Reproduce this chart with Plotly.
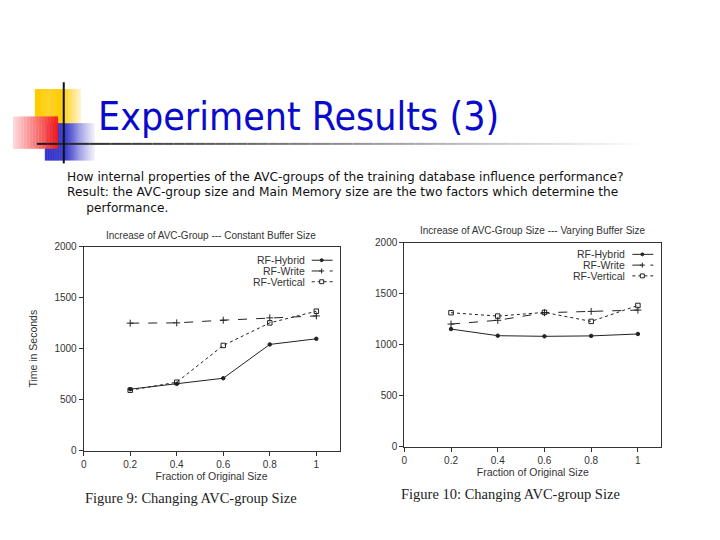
import plotly.graph_objects as go

W, H = 720, 540

fractions = [0.2, 0.4, 0.6, 0.8, 1.0]
series_names = ['RF-Hybrid', 'RF-Write', 'RF-Vertical']

# Figure 9: constant buffer size
const_hybrid = [604, 656, 711, 1042, 1097]
const_write = [1250, 1253, 1279, 1302, 1321]
const_vertical = [594, 672, 1032, 1253, 1367]

# Figure 10: varying buffer size
vary_hybrid = [1154, 1089, 1083, 1087, 1106]
vary_write = [1203, 1240, 1314, 1327, 1340]
vary_vertical = [1314, 1281, 1317, 1229, 1385]

x_ticks = [0, 0.2, 0.4, 0.6, 0.8, 1]
x_tick_labels = ['0', '0.2', '0.4', '0.6', '0.8', '1']
y_ticks = [0, 500, 1000, 1500, 2000]

slide_title = 'Experiment Results (3)'
body_lines = [
    'How internal properties of the AVC-groups of the training database influence performance?',
    'Result: the AVC-group size and Main Memory size are the two factors which determine the',
    '&nbsp;&nbsp;&nbsp;&nbsp;&nbsp;performance.',
]
chart_titles = ['Increase of AVC-Group --- Constant Buffer Size',
                'Increase of AVC-Group Size --- Varying Buffer Size']
captions = ['Figure 9: Changing AVC-group Size', 'Figure 10: Changing AVC-group Size']

INK = '#222222'
CHART_FONT = 'Liberation Sans'
styles = {
    'RF-Hybrid': dict(dash='solid', symbol='circle', size=3.5),
    'RF-Write': dict(dash='dash', symbol='cross-thin-open', size=5),
    'RF-Vertical': dict(dash='dot', symbol='square-open', size=4.5),
}


def px(x):
    return x / W


def py(y):
    return 1 - y / H


def mix(rgb, t):
    # t=0 -> full colour, t=1 -> white
    r, g, b = rgb
    return 'rgb(%d,%d,%d)' % (r + (255 - r) * t, g + (255 - g) * t, b + (255 - b) * t)


fig = go.Figure()

panels = [
    dict(xa='x', ya='y', data=[const_hybrid, const_write, const_vertical],
         box=(81, 338, 246, 455)),
    dict(xa='x2', ya='y2', data=[vary_hybrid, vary_write, vary_vertical],
         box=(403, 661, 242, 451)),
]

for p in panels:
    for name, values in zip(series_names, p['data']):
        st = styles[name]
        fig.add_trace(go.Scatter(
            x=fractions, y=values, name=name, mode='lines+markers',
            xaxis=p['xa'], yaxis=p['ya'], showlegend=False,
            line=dict(color=INK, width=1, dash=st['dash']),
            marker=dict(symbol=st['symbol'], size=st['size'], color=INK,
                        line=dict(color=INK, width=1)),
        ))

axis_common = dict(
    showgrid=False, zeroline=False, showline=True, linecolor='#333333',
    linewidth=1, mirror=True, ticks='outside', ticklen=4, tickcolor='#333333',
    tickfont=dict(family=CHART_FONT, size=10, color='#333333'),
)

layout_axes = {}
for i, p in enumerate(panels):
    x0, x1, y0, y1 = p['box']
    sfx = '' if i == 0 else str(i + 1)
    layout_axes['xaxis' + sfx] = dict(
        axis_common, domain=[px(x0), px(x1)], range=[0, 1.1], anchor='y' + sfx,
        tickvals=x_ticks, ticktext=x_tick_labels,
        title=dict(text='Fraction of Original Size', standoff=2,
                   font=dict(family=CHART_FONT, size=10.5, color='#333333')),
    )
    layout_axes['yaxis' + sfx] = dict(
        axis_common, domain=[py(y1), py(y0)], range=[0, 2000], anchor='x' + sfx,
        tickvals=y_ticks,
        title=dict(text='Time in Seconds' if i == 0 else '', standoff=14,
                   font=dict(family=CHART_FONT, size=10.5, color='#333333')),
    )

shapes = []
annotations = []


# decorative squares with horizontal colour fades
def gradient_box(x0, x1, y0, y1, rgb, fade_start, fade_end, n=30):
    # fade_start/fade_end: whiteness at left / right edge
    for k in range(n):
        t = (k + 0.5) / n
        a, b = x0 + (x1 - x0) * k / n, x0 + (x1 - x0) * (k + 1) / n
        shapes.append(dict(type='rect', xref='paper', yref='paper',
                           x0=px(a), x1=px(b + 0.3), y0=py(y1), y1=py(y0),
                           line=dict(width=0),
                           fillcolor=mix(rgb, fade_start + (fade_end - fade_start) * t)))


gradient_box(32, 61, 85, 121, (255, 204, 0), 0.0, 0.05)
gradient_box(61, 78, 85, 121, (255, 204, 0), 0.05, 0.8)
gradient_box(42, 61, 120, 158, (40, 40, 200), 0.0, 0.05)
gradient_box(61, 92, 120, 158, (40, 40, 200), 0.05, 0.95)
gradient_box(10, 55, 113, 146, (245, 25, 25), 0.85, 0.0)

# horizontal rule with fade
n_rule = 60
for k in range(n_rule):
    a = 34 + (668 - 34) * k / n_rule
    b = 34 + (668 - 34) * (k + 1) / n_rule
    shapes.append(dict(type='line', xref='paper', yref='paper', x0=px(a), x1=px(b),
                       y0=py(141), y1=py(141),
                       line=dict(color=mix((30, 30, 30), min(k / n_rule * 1.05, 1)), width=2)))
# vertical rule
shapes.append(dict(type='line', xref='paper', yref='paper', x0=px(61), x1=px(61),
                   y0=py(78), y1=py(161), line=dict(color='#111111', width=2)))

annotations.append(dict(text=slide_title, xref='paper', yref='paper', x=px(93), y=py(113),
                        xanchor='left', yanchor='middle', showarrow=False,
                        font=dict(family='DejaVu Sans Condensed, Liberation Sans',
                                  size=39, color='#0A0ACC')))

for j, line in enumerate(body_lines):
    annotations.append(dict(text=line, xref='paper', yref='paper',
                            x=px(62), y=py(175 + j * 15.7), xanchor='left', yanchor='middle',
                            showarrow=False,
                            font=dict(family='DejaVu Sans', size=12.2, color='#111111')))

title_pos = [(209, 235), (532, 230)]
caption_pos = [(80, 503), (398, 499)]
for i in range(2):
    annotations.append(dict(text=chart_titles[i], xref='paper', yref='paper',
                            x=px(title_pos[i][0]), y=py(title_pos[i][1]), xanchor='center',
                            yanchor='middle', showarrow=False,
                            font=dict(family=CHART_FONT, size=10, color='#333333')))
    annotations.append(dict(text=captions[i], xref='paper', yref='paper',
                            x=px(caption_pos[i][0]), y=py(caption_pos[i][1]), xanchor='left',
                            yanchor='middle', showarrow=False,
                            font=dict(family='Liberation Serif', size=14.5, color='#222222')))

# hand-drawn legends (text on the left, key on the right)
legend_pos = [(305, 260), (627, 254)]
for (lx, ly) in legend_pos:
    for k, name in enumerate(series_names):
        st = styles[name]
        yy = ly + k * 11
        annotations.append(dict(text=name, xref='paper', yref='paper', x=px(lx), y=py(yy),
                                xanchor='right', yanchor='middle', showarrow=False,
                                font=dict(family=CHART_FONT, size=10.5, color='#333333')))
        shapes.append(dict(type='line', xref='paper', yref='paper', x0=px(lx + 5),
                           x1=px(lx + 26), y0=py(yy), y1=py(yy),
                           line=dict(color=INK, width=1, dash=st['dash'])))
        cx = lx + 15
        if name == 'RF-Hybrid':
            shapes.append(dict(type='circle', xref='paper', yref='paper', x0=px(cx - 1.5),
                               x1=px(cx + 1.5), y0=py(yy + 1.5), y1=py(yy - 1.5),
                               fillcolor=INK, line=dict(color=INK, width=1)))
        elif name == 'RF-Write':
            shapes.append(dict(type='line', xref='paper', yref='paper', x0=px(cx), x1=px(cx),
                               y0=py(yy + 2.5), y1=py(yy - 2.5), line=dict(color=INK, width=1)))
            shapes.append(dict(type='line', xref='paper', yref='paper', x0=px(cx - 2.5),
                               x1=px(cx + 2.5), y0=py(yy), y1=py(yy),
                               line=dict(color=INK, width=1)))
        else:
            shapes.append(dict(type='rect', xref='paper', yref='paper', x0=px(cx - 2),
                               x1=px(cx + 2), y0=py(yy + 2), y1=py(yy - 2),
                               fillcolor='white', line=dict(color=INK, width=1)))

fig.update_layout(
    width=W, height=H, margin=dict(l=0, r=0, t=0, b=0),
    paper_bgcolor='white', plot_bgcolor='white', showlegend=False,
    shapes=shapes, annotations=annotations, **layout_axes,
)

# drop the default page margin so the figure sits flush in the window
fig.write_html('out.html', config={'displayModeBar': False},
               post_script="document.body.style.margin='0';")
